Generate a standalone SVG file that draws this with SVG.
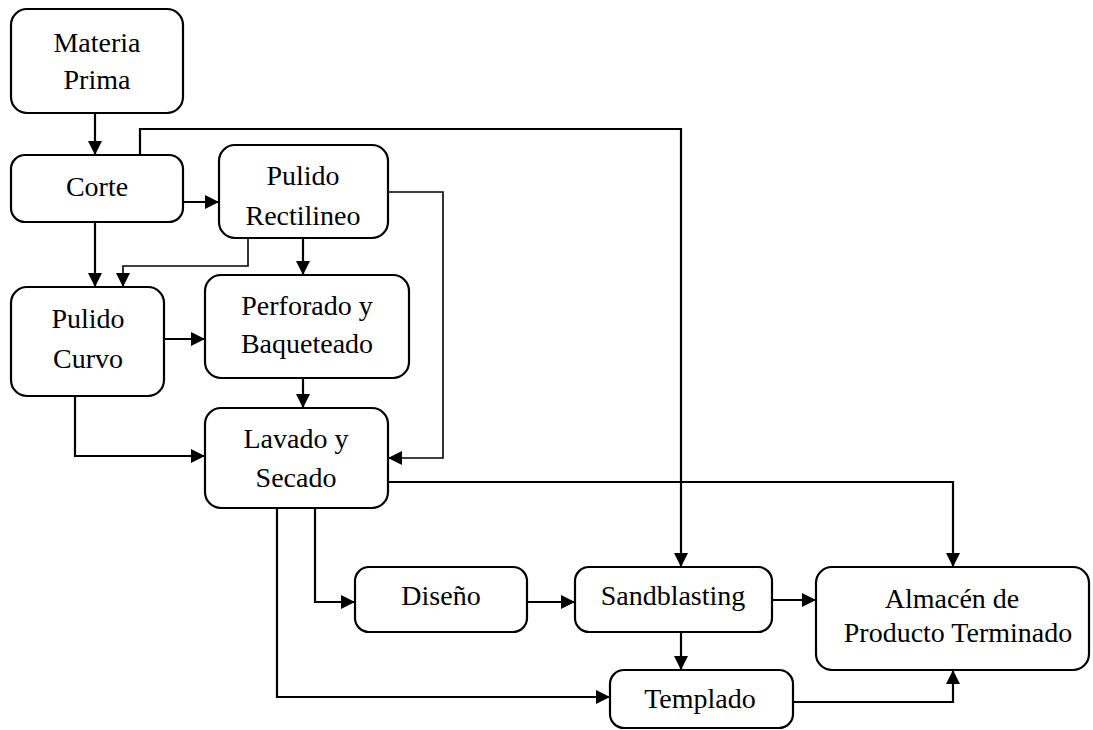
<svg xmlns="http://www.w3.org/2000/svg" width="1093" height="730" viewBox="0 0 1093 730">
<style>
.box{fill:#fff;stroke:#000;stroke-width:2.2}
.t{font-size:28px;fill:#000;text-anchor:middle}
.c{fill:none;stroke:#000;stroke-width:2.2}
.thin{stroke-width:1.6}
</style>
<defs>
<marker id="ah" markerUnits="userSpaceOnUse" markerWidth="14" markerHeight="14" viewBox="0 0 14 14" refX="14" refY="7" orient="auto">
<path d="M0,0 L14,7 L0,14 Z" fill="#000"/>
</marker>
</defs>
<rect width="1093" height="730" fill="#fff"/>
<g id="connectors">
<path class="c" d="M95,113 V155" marker-end="url(#ah)"/>
<path class="c" d="M140,155 V129 H681 V567" marker-end="url(#ah)"/>
<path class="c" d="M183,202 H219" marker-end="url(#ah)"/>
<path class="c thin" d="M383,192 H443 V458 H388" marker-end="url(#ah)"/>
<path class="c" d="M95,222 V287" marker-end="url(#ah)"/>
<path class="c thin" d="M248,238 V266 H123 V287" marker-end="url(#ah)"/>
<path class="c" d="M303,238 V275" marker-end="url(#ah)"/>
<path class="c" d="M164,339 H205" marker-end="url(#ah)"/>
<path class="c" d="M303,378 V408" marker-end="url(#ah)"/>
<path class="c" d="M75,396 V456 H205" marker-end="url(#ah)"/>
<path class="c" d="M388,482 H953 V567" marker-end="url(#ah)"/>
<path class="c" d="M315,508 V602 H355" marker-end="url(#ah)"/>
<path class="c" d="M277,508 V697 H610" marker-end="url(#ah)"/>
<path class="c" d="M527,602 H575" marker-end="url(#ah)"/>
<path class="c" d="M772,600 H816" marker-end="url(#ah)"/>
<path class="c" d="M681,632 V670" marker-end="url(#ah)"/>
<path class="c" d="M793,702 H953 V670" marker-end="url(#ah)"/>
</g>
<g font-family="Liberation Serif, Times New Roman, serif">
<g id="materia-prima">
<rect class="box" x="11" y="9" width="172" height="104" rx="16"/>
<text class="t" x="97" y="52">Materia</text>
<text class="t" x="97" y="89">Prima</text>
</g>
<g id="corte">
<rect class="box" x="11" y="155" width="172" height="67" rx="14"/>
<text class="t" x="97" y="196">Corte</text>
</g>
<g id="pulido-rectilineo">
<rect class="box" x="219" y="145" width="169" height="93" rx="16"/>
<text class="t" x="303" y="185">Pulido</text>
<text class="t" x="303" y="225">Rectilineo</text>
</g>
<g id="pulido-curvo">
<rect class="box" x="11" y="287" width="153" height="109" rx="16"/>
<text class="t" x="88" y="328">Pulido</text>
<text class="t" x="88" y="368">Curvo</text>
</g>
<g id="perforado">
<rect class="box" x="205" y="275" width="204" height="103" rx="16"/>
<text class="t" x="307" y="315">Perforado y</text>
<text class="t" x="307" y="353">Baqueteado</text>
</g>
<g id="lavado">
<rect class="box" x="205" y="408" width="183" height="100" rx="16"/>
<text class="t" x="296" y="448">Lavado y</text>
<text class="t" x="296" y="487">Secado</text>
</g>
<g id="diseno">
<rect class="box" x="355" y="567" width="172" height="65" rx="14"/>
<text class="t" x="441" y="605">Diseño</text>
</g>
<g id="sandblasting">
<rect class="box" x="575" y="567" width="197" height="65" rx="14"/>
<text class="t" x="673" y="605">Sandblasting</text>
</g>
<g id="almacen">
<rect class="box" x="816" y="567" width="273" height="103" rx="16"/>
<text class="t" x="952" y="608">Almacén de</text>
<text class="t" x="958" y="642">Producto Terminado</text>
</g>
<g id="templado">
<rect class="box" x="610" y="670" width="183" height="58" rx="14"/>
<text class="t" x="700" y="708">Templado</text>
</g>
</g>
</svg>
